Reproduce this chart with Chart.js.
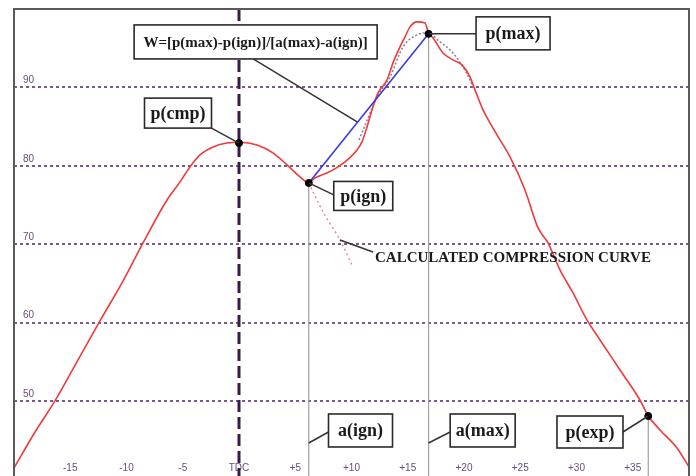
<!DOCTYPE html>
<html>
<head>
<meta charset="utf-8">
<script src="https://cdn.jsdelivr.net/npm/chart.js@4/dist/chart.umd.min.js"></script>
<style>
  html, body { margin: 0; padding: 0; background: #ffffff; overflow: hidden; }
  #wrap { width: 696px; height: 476px; overflow: hidden; }
  canvas { display: block; }
</style>
</head>
<body>
<div id="wrap"><canvas id="c" width="696" height="481"></canvas></div>
<script>
// ---------- DATA ----------
const xTickValues = [-15, -10, -5, 0, 5, 10, 15, 20, 25, 30, 35];
const xTickLabels = ['-15', '-10', '-5', 'TDC', '+5', '+10', '+15', '+20', '+25', '+30', '+35'];
const yTickValues = [50, 60, 70, 80, 90];

// measured cylinder pressure (crank angle, pressure)
const pressureAngle = [-20, -18.13, -16.36, -14.31, -12.36, -10.4, -8.53, -6.4, -5.24, -4.36, -3.47, -2.31, -1.07, 0.09,
  1.6, 3.02, 4.27, 5.42, 6.2, 6.76, 7.82, 8.36, 9.42, 10.49, 10.93, 11.38, 11.82, 12.36, 13.16, 13.69, 14.31, 14.76,
  15.2, 15.82, 16.53, 16.85, 17.24, 18.13, 19.02, 19.82, 20.53, 20.98, 21.69, 22.31, 22.93, 24.09, 25.42, 26.58,
  27.47, 28.53, 29.69, 30.93, 32.09, 33.87, 35.64, 36.38, 37.42, 38.93, 40];
const pressureValue = [41.47, 46.06, 50.02, 55.25, 60.22, 65.07, 70.17, 75.65, 77.95, 79.86, 81.39, 82.41, 82.92, 83.0,
  82.67, 81.65, 80.12, 78.59, 77.82, 78.46, 79.10, 79.48, 80.50, 82.03, 83.05, 84.96, 87.13, 89.30, 90.96, 93.13, 95.17, 96.45,
  97.72, 98.36, 98.23, 96.95, 96.32, 94.40, 93.51, 92.87, 91.34, 89.69, 87.13, 85.48, 83.95, 81.14, 76.93, 72.08,
  70.17, 66.73, 63.79, 60.35, 57.80, 53.97, 50.14, 48.1, 46.32, 44.02, 41.6];

// smoothed combustion fit (dotted, around the peak)
const fitAngle = [10.67, 11.47, 12.27, 13.42, 14.58, 15.82, 16.71, 17.87, 19.02, 19.91, 20.53, 20.89];
const fitValue = [83.31, 86.11, 88.79, 91.34, 95.17, 96.70, 96.96, 95.81, 94.40, 92.62, 90.96, 89.69];

// calculated compression curve (continuation after ignition)
const calcAngle = [6.2, 7.47, 8.98, 10.13];
const calcValue = [77.82, 74.12, 70.55, 67.11];

// characteristic points
const pCmp = { a: 0, p: 82.9 };
const pIgn = { a: 6.2, p: 77.82 };
const pMax = { a: 16.85, p: 96.83 };
const pExp = { a: 36.38, p: 48.1 };

const yMin = 40.45, yMax = 100, xMin = -20, xMax = 40;

// ---------- BUILD ----------
const toXY = (xs, ys) => xs.map((x, i) => ({ x: x, y: ys[i] }));

const datasets = [
  { label: 'points', type: 'scatter', order: 0,
    data: [pCmp, pIgn, pMax, pExp].map(o => ({ x: o.a, y: o.p })),
    pointRadius: 3.5, pointBackgroundColor: '#000', pointBorderColor: '#000', showLine: false },
  { label: 'W', order: 1, data: [{ x: pIgn.a, y: pIgn.p }, { x: pMax.a, y: pMax.p }],
    borderColor: '#3a3ae0', borderWidth: 1.6, pointRadius: 0 },
  { label: 'pressure', order: 2, data: toXY(pressureAngle, pressureValue),
    borderColor: '#ee3a3a', borderWidth: 1.6, pointRadius: 0, cubicInterpolationMode: 'monotone' },
  { label: 'fit', order: 3, data: toXY(fitAngle, fitValue),
    borderColor: '#8c7f98', borderWidth: 1.5, borderDash: [2, 2], pointRadius: 0, cubicInterpolationMode: 'monotone' },
  { label: 'calc', order: 3, data: toXY(calcAngle, calcValue),
    borderColor: '#ee8a9a', borderWidth: 1.5, borderDash: [2, 3], pointRadius: 0, tension: 0.3 },
  { label: 'a(ign)', order: 4, data: [{ x: pIgn.a, y: pIgn.p }, { x: pIgn.a, y: yMin }],
    borderColor: '#a0a0a0', borderWidth: 1.2, pointRadius: 0 },
  { label: 'a(max)', order: 4, data: [{ x: pMax.a, y: pMax.p }, { x: pMax.a, y: yMin }],
    borderColor: '#a0a0a0', borderWidth: 1.2, pointRadius: 0 },
  { label: 'exp', order: 4, data: [{ x: pExp.a, y: pExp.p }, { x: pExp.a, y: yMin }],
    borderColor: '#a0a0a0', borderWidth: 1.2, pointRadius: 0 },
  { label: 'TDC', order: 5, data: [{ x: 0, y: yMax }, { x: 0, y: yMin }],
    borderColor: '#3a1a48', borderWidth: 3, borderDash: [12, 5], pointRadius: 0 }
];

// annotation boxes anchored to data points; offsets in px
const annotations = [
  { text: 'p(cmp)', at: [pCmp.a, pCmp.p], off: [-61, -30], size: [67, 30], lead: [33.5, 15], font: 'bold 18px "Liberation Serif"' },
  { text: 'W=[p(max)-p(ign)]/[a(max)-a(ign)]', at: [10.5, 85.6], off: [-101.5, -80], size: [243, 34], lead: [-2.5, 17], font: 'bold 15px "Liberation Serif"' },
  { text: 'p(max)', at: [pMax.a, pMax.p], off: [84.5, -0.5], size: [74, 33], lead: [-37, 0.5], font: 'bold 18px "Liberation Serif"' },
  { text: 'p(ign)', at: [pIgn.a, pIgn.p], off: [54.5, 13], size: [59, 29], lead: [-29.5, -1], font: 'bold 18px "Liberation Serif"' },
  { text: 'a(ign)', at: [pIgn.a, 44.66], off: [51.75, -12.5], size: [64, 33], lead: [-32, 1.5], font: 'bold 18px "Liberation Serif"' },
  { text: 'a(max)', at: [pMax.a, 44.66], off: [54.1, -12.5], size: [65, 33], lead: [-32.5, 1.5], font: 'bold 18px "Liberation Serif"' },
  { text: 'p(exp)', at: [pExp.a, pExp.p], off: [-58.3, 16], size: [66, 32], lead: [33, 0], font: 'bold 18px "Liberation Serif"' },
  { text: 'CALCULATED COMPRESSION CURVE', at: [8.98, 70.55], off: [35, 18], size: null, lead: [-2, -6], font: 'bold 15px "Liberation Serif"' }
];

const framePlugin = {
  id: 'frame',
  afterDraw(chart) {
    const { ctx, chartArea: a } = chart;
    ctx.save();
    ctx.strokeStyle = '#5a5a5a';
    ctx.lineWidth = 2;
    ctx.beginPath();
    ctx.moveTo(a.left, a.bottom);
    ctx.lineTo(a.left, a.top);
    ctx.lineTo(a.right, a.top);
    ctx.lineTo(a.right, a.bottom);
    ctx.stroke();
    ctx.restore();
  }
};

const annotPlugin = {
  id: 'annot',
  afterDatasetsDraw(chart) {
    const { ctx } = chart;
    const xs = chart.scales.x, ys = chart.scales.y;
    ctx.save();
    annotations.forEach(an => {
      const px = xs.getPixelForValue(an.at[0]);
      const py = ys.getPixelForValue(an.at[1]);
      const cx = px + an.off[0], cy = py + an.off[1];
      ctx.strokeStyle = '#333';
      ctx.lineWidth = 1.5;
      ctx.beginPath();
      ctx.moveTo(cx + an.lead[0], cy + an.lead[1]);
      ctx.lineTo(px, py);
      ctx.stroke();
      ctx.font = an.font;
      ctx.textBaseline = 'middle';
      if (an.size) {
        const w = an.size[0], h = an.size[1];
        ctx.fillStyle = '#fff';
        ctx.fillRect(cx - w / 2, cy - h / 2, w, h);
        ctx.strokeStyle = '#2a2a2a';
        ctx.lineWidth = 1.6;
        ctx.strokeRect(cx - w / 2, cy - h / 2, w, h);
        ctx.fillStyle = '#1a1a1a';
        ctx.textAlign = 'center';
        ctx.fillText(an.text, cx, cy + 1);
      } else {
        ctx.fillStyle = '#1a1a1a';
        ctx.textAlign = 'left';
        ctx.fillText(an.text, cx, cy);
      }
    });
    ctx.restore();
  }
};

new Chart(document.getElementById('c'), {
  type: 'line',
  data: { datasets: datasets },
  plugins: [framePlugin, annotPlugin],
  options: {
    responsive: false,
    animation: false,
    devicePixelRatio: 1,
    layout: { padding: { left: 14, top: 9, right: 7, bottom: 0 } },
    plugins: { legend: { display: false }, tooltip: { enabled: false } },
    scales: {
      x: {
        type: 'linear', min: xMin, max: xMax,
        afterBuildTicks: s => { s.ticks = xTickValues.map(v => ({ value: v })); },
        afterFit: s => { s.height = 0; s.paddingLeft = 0; s.paddingRight = 0; s.paddingTop = 0; s.paddingBottom = 0; },
        grid: { display: false, drawTicks: false },
        border: { display: false },
        ticks: {
          mirror: true, padding: 2, autoSkip: false, maxRotation: 0,
          color: '#6b4a80', font: { size: 10, family: 'Liberation Sans' },
          callback: (v, i) => xTickLabels[i]
        }
      },
      y: {
        type: 'linear', min: yMin, max: yMax,
        afterBuildTicks: s => { s.ticks = yTickValues.map(v => ({ value: v })); },
        afterFit: s => { s.width = 0; s.paddingTop = 0; s.paddingBottom = 0; s.paddingLeft = 0; s.paddingRight = 0; },
        grid: { color: '#7a5a8c', lineWidth: 2, drawTicks: false },
        border: { display: false, dash: [3, 3] },
        ticks: {
          mirror: true, padding: 9, labelOffset: -7,
          color: '#6b4a80', font: { size: 10, family: 'Liberation Sans' }
        }
      }
    }
  }
});
</script>
</body>
</html>
